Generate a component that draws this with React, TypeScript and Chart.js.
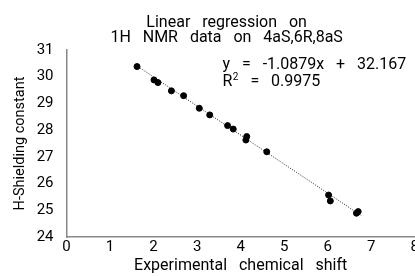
import { useEffect, useRef } from "react";
import { Chart, registerables } from "chart.js";
Chart.register(...registerables);

const shiftX = [1.62, 2.01, 2.1, 2.41, 2.69, 3.05, 3.29, 3.7, 3.83, 4.14, 4.12, 4.6, 6.02, 6.06, 6.66, 6.7];
const shieldY = [30.38, 29.88, 29.78, 29.47, 29.29, 28.82, 28.57, 28.17, 28.04, 27.76, 27.63, 27.19, 25.57, 25.35, 24.89, 24.95];
const slope = -1.0879;
const intercept = 32.167;
const rSquared = "0.9975";
const trendFrom = 1.6;
const trendTo = 6.77;
const titleLines = ["Linear   regression   on", "1H   NMR   data   on   4aS,6R,8aS"];
const xTitle = "Experimental   chemical   shift";
const yTitle = "H-Shielding constant";
const FONT = "Roboto";

const textPlugin = {
  id: "texts",
  afterDraw(chart: any) {
    const ctx = chart.ctx;
    const area = chart.chartArea;
    ctx.save();
    ctx.fillStyle = "#000";
    ctx.font = `16px ${FONT}`;
    ctx.textAlign = "center";
    ctx.textBaseline = "alphabetic";
    const cx = (area.left + area.right) / 2 - 14;
    ctx.fillText(titleLines[0], cx, area.top - 23);
    ctx.fillText(titleLines[1], cx, area.top - 8.5);
    ctx.textAlign = "left";
    const x0 = area.left + 156;
    const y1 = area.top + 19;
    const y2 = area.top + 35.5;
    ctx.fillText(`y   =   ${slope}x   +   ${intercept}`, x0, y1);
    ctx.fillText("R", x0, y2);
    const rw = ctx.measureText("R").width;
    ctx.font = `10px ${FONT}`;
    ctx.fillText("2", x0 + rw + 0.5, y2 - 6);
    const sw = ctx.measureText("2").width;
    ctx.font = `16px ${FONT}`;
    ctx.fillText(`   =   ${rSquared}`, x0 + rw + sw + 0.5, y2);
    ctx.restore();
  },
};

export default function App() {
  const ref = useRef<HTMLCanvasElement>(null);
  useEffect(() => {
    const pts = shiftX.map((x, i) => ({ x, y: shieldY[i] }));
    const trend = [trendFrom, trendTo].map((x) => ({ x, y: slope * x + intercept }));
    const chart = new Chart(ref.current!, {
      type: "scatter",
      data: {
        datasets: [
          {
            data: pts,
            backgroundColor: "#000",
            borderColor: "#000",
            pointRadius: 3,
            order: 1,
          },
          {
            type: "line",
            data: trend,
            borderColor: "#222",
            borderWidth: 1,
            borderDash: [1, 1.5],
            pointRadius: 0,
            fill: false,
            order: 2,
          } as any,
        ],
      },
      options: {
        animation: false,
        responsive: false,
        maintainAspectRatio: false,
        layout: { padding: { top: 50, right: 4, left: 12, bottom: 0 } },
        plugins: {
          legend: { display: false },
          tooltip: { enabled: false },
          title: { display: false },
        },
        scales: {
          x: {
            type: "linear",
            min: 0,
            max: 8,
            afterFit: (s: any) => {
              s.height = 39;
            },
            ticks: { stepSize: 1, color: "#000", font: { family: FONT, size: 15 }, padding: 1 },
            grid: { display: false, drawTicks: false },
            border: { display: true, color: "#888", width: 1.5 },
            title: {
              display: true,
              text: xTitle,
              color: "#000",
              font: { family: FONT, size: 16 },
              padding: { top: 0, bottom: 0 },
            },
          },
          y: {
            type: "linear",
            min: 24,
            max: 31,
            afterFit: (s: any) => {
              s.width = 54.5;
            },
            ticks: { stepSize: 1, color: "#000", font: { family: FONT, size: 15 }, padding: 13 },
            grid: { display: false, drawTicks: false },
            border: { display: true, color: "#888", width: 1.5 },
            title: {
              display: true,
              text: yTitle,
              color: "#000",
              font: { family: FONT, size: 14.5 },
              padding: { top: 0, bottom: 0 },
            },
          },
        },
      },
      plugins: [textPlugin],
    });
    return () => chart.destroy();
  }, []);
  return (
    <div style={{ position: "fixed", left: 0, top: 0, width: 415, height: 276, overflow: "hidden", background: "#fff" }}>
      <canvas ref={ref} width={420} height={276} style={{ display: "block", width: 420, height: 276 }} />
    </div>
  );
}
